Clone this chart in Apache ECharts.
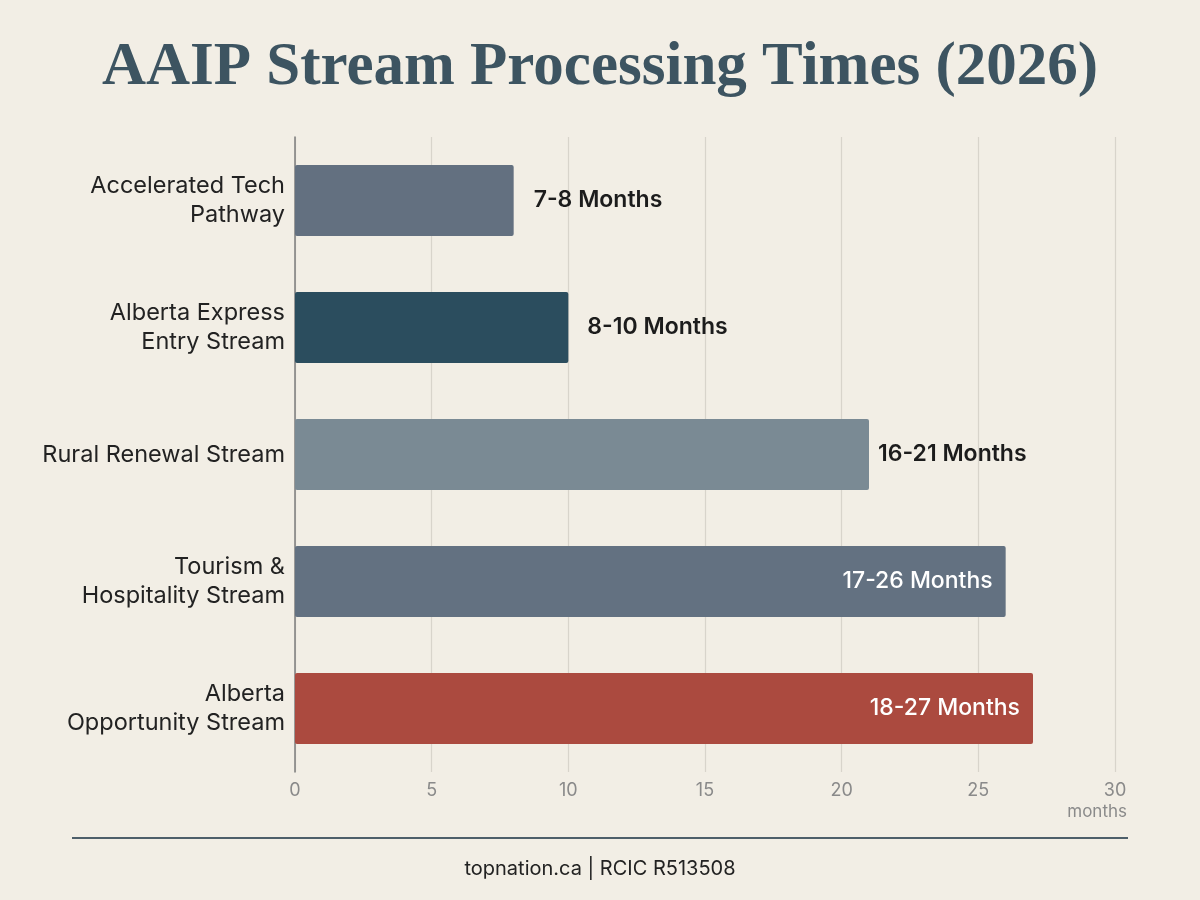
<!DOCTYPE html>
<html>
<head>
<meta charset="utf-8">
<script src="https://cdn.jsdelivr.net/npm/echarts@6/dist/echarts.min.js"></script>
<style>
  html, body { margin: 0; padding: 0; background: #f2eee5; }
  #main { width: 1200px; height: 900px; }
</style>
</head>
<body>
<div id="main"></div>
<script>
// stream names, top to bottom
var streams = [
    "Accelerated Tech\nPathway",
    "Alberta Express\nEntry Stream",
    "Rural Renewal Stream",
    "Tourism &\nHospitality Stream",
    "Alberta\nOpportunity Stream"
];
// upper end of each range (months)
var maxMonths = [8, 10, 21, 26, 27];
var rangeLabels = ["7-8 Months", "8-10 Months", "16-21 Months", "17-26 Months", "18-27 Months"];
var barColors = ["#637080", "#2b4d5e", "#7a8a94", "#637181", "#ab4a3f"];
var insideLabel = [false, false, false, true, true];
var labelGap = [20, 19, 9, 13, 13];
var xTicks = [0, 5, 10, 15, 20, 25, 30];

var sans = "Inter, 'Noto Sans', sans-serif";

var data = [];
for (var i = 0; i < maxMonths.length; i++) {
    var inside = insideLabel[i];
    data.push({
        value: maxMonths[i],
        itemStyle: { color: barColors[i], borderRadius: 2 },
        label: {
            show: true,
            formatter: rangeLabels[i],
            position: inside ? "insideRight" : "right",
            distance: labelGap[i],
            color: inside ? "#ffffff" : "#1c1c1c",
            fontSize: 23,
            fontWeight: inside ? 500 : 600,
            fontFamily: sans
        }
    });
}

var myChart = echarts.init(document.getElementById("main"));
var option = {
    backgroundColor: "#f2eee5",
    animation: false,
    title: {
        text: "AAIP Stream Processing Times (2026)",
        left: "center",
        top: 33,
        textStyle: {
            fontFamily: "'Liberation Serif', 'DejaVu Serif', serif",
            fontWeight: "bold",
            fontSize: 61,
            color: "#3d5461"
        }
    },
    grid: { left: 295, right: 85, top: 137, bottom: 128 },
    xAxis: {
        type: "value",
        min: 0,
        max: 30,
        interval: 5,
        axisLine: { show: false },
        axisTick: { show: false },
        axisLabel: {
            color: "#8a8a8a",
            fontSize: 18,
            fontFamily: sans,
            margin: 10,
            formatter: function (v) { return xTicks.indexOf(v) >= 0 ? v : ""; }
        },
        splitLine: { show: true, lineStyle: { color: "#d8d4cb", width: 1.2 } }
    },
    yAxis: {
        type: "category",
        data: streams,
        inverse: true,
        axisLine: { show: true, lineStyle: { color: "#7d7d7d", width: 1.5 } },
        axisTick: { show: false },
        axisLabel: {
            color: "#222222",
            fontSize: 23.5,
            fontFamily: sans,
            lineHeight: 29,
            margin: 10,
            align: "right"
        }
    },
    series: [{
        type: "bar",
        data: data,
        barWidth: "56%"
    }],
    graphic: [
        {
            type: "text",
            right: 73,
            top: 803,
            style: { text: "months", fill: "#8a8a8a", fontSize: 17, fontFamily: sans }
        },
        {
            type: "rect",
            shape: { x: 72, y: 837, width: 1056, height: 2 },
            style: { fill: "#4e5f6a" }
        },
        {
            type: "text",
            left: "center",
            top: 859,
            style: { text: "topnation.ca | RCIC R513508", fill: "#222222", fontSize: 20, fontFamily: sans }
        }
    ]
};
myChart.setOption(option);
</script>
</body>
</html>
